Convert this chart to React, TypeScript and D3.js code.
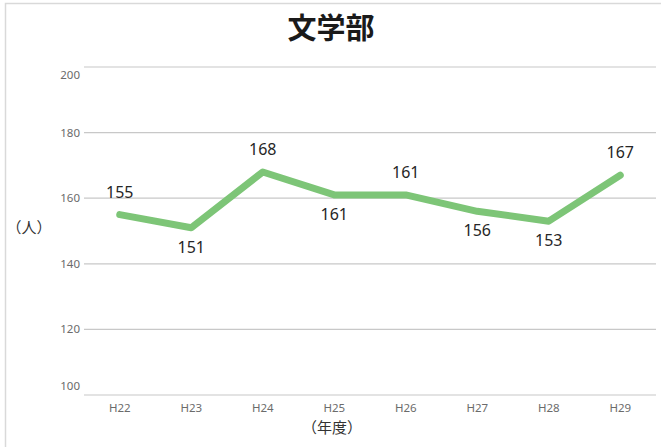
import React from "react";
import * as d3 from "d3";

const categories = ["H22", "H23", "H24", "H25", "H26", "H27", "H28", "H29"];
const values = [155, 151, 168, 161, 161, 156, 153, 167];
const labelSides = ["above", "below", "above", "below", "above", "below", "below", "above"];
const yTicks = [100, 120, 140, 160, 180, 200];
const title = "文学部";
const yTitle = "（人）";
const xTitle = "（年度）";

const W = 661;
const H = 447;
const left = 84;
const right = 656;
const top = 67;
const bottom = 395;

export default function App() {
  const x = d3.scaleBand<string>().domain(categories).range([left, right]);
  const y = d3.scaleLinear().domain([100, 200]).range([bottom, top]);
  const line = d3
    .line<number>()
    .x((_, i) => (x(categories[i]) as number) + x.bandwidth() / 2)
    .y((d) => y(d));
  const font = "'Noto Sans', 'Liberation Sans', sans-serif";
  const cjk = "'Noto Sans CJK JP', 'Noto Sans', sans-serif";
  return (
    <svg
      width={W}
      height={H}
      style={{ position: "absolute", left: 0, top: 0, background: "#fff" }}
    >
      <rect x={5.5} y={3.5} width={W + 10} height={H + 10} fill="#fff" stroke="#d9d9d9" strokeWidth={1.5} />
      <text x={331} y={39} textAnchor="middle" fontFamily={cjk} fontWeight="bold" fontSize={29} fill="#1a1a1a">
        {title}
      </text>
      {yTicks.map((t) => (
        <g key={t}>
          <line x1={left} x2={right} y1={y(t)} y2={y(t)} stroke="#c8c8c8" strokeWidth={1.2} />
          <text
            x={80}
            y={t === 200 ? y(t) + 12 : t === 100 ? y(t) - 5 : y(t) + 4}
            textAnchor="end"
            fontFamily={font}
            fontSize={11.5}
            fill="#6b6b6b"
          >
            {t}
          </text>
        </g>
      ))}
      {categories.map((c) => (
        <text
          key={c}
          x={(x(c) as number) + x.bandwidth() / 2}
          y={412}
          textAnchor="middle"
          fontFamily={font}
          fontSize={11.5}
          fill="#6b6b6b"
        >
          {c}
        </text>
      ))}
      <text x={332} y={433} textAnchor="middle" fontFamily={cjk} fontSize={15} fill="#333">
        {xTitle}
      </text>
      <text x={29} y={233} textAnchor="middle" fontFamily={cjk} fontSize={15} fill="#333">
        {yTitle}
      </text>
      <path
        d={line(values) || ""}
        fill="none"
        stroke="#7dc577"
        strokeWidth={7}
        strokeLinecap="round"
        strokeLinejoin="round"
      />
      {values.map((v, i) => (
        <text
          key={i}
          x={(x(categories[i]) as number) + x.bandwidth() / 2}
          y={labelSides[i] === "above" ? y(v) - 17 : y(v) + 25}
          textAnchor="middle"
          fontFamily={font}
          fontSize={16}
          fill="#262626"
        >
          {v}
        </text>
      ))}
    </svg>
  );
}
